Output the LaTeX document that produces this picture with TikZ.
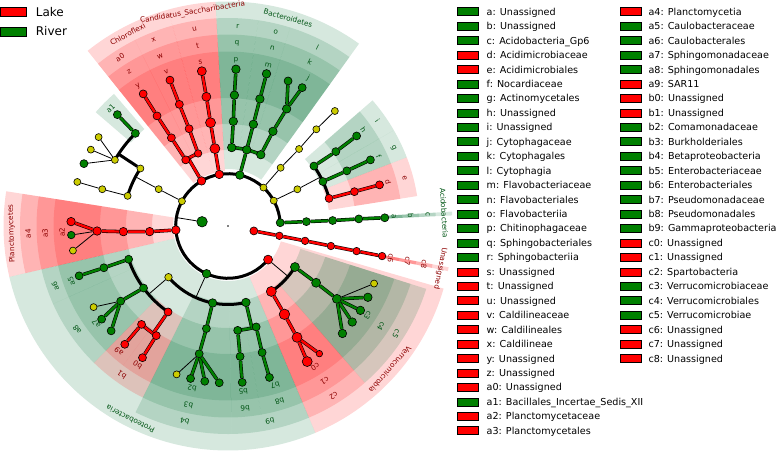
\documentclass[tikz,border=0pt]{standalone}
\usepackage{fontspec}
\setmainfont{DejaVu Sans}
\pgfdeclarelayer{bg}\pgfdeclarelayer{fg}\pgfsetlayers{bg,main,fg}
\definecolor{lk}{RGB}{255,0,0}
\definecolor{rv}{RGB}{0,128,0}
\definecolor{ye}{RGB}{204,204,0}
\definecolor{wr}{RGB}{255,0,0}
\definecolor{wg}{RGB}{0,110,50}
\definecolor{tr}{RGB}{140,0,0}
\definecolor{tg}{RGB}{0,85,20}
\tikzset{
 nd/.style={circle, draw=black, line width=0.6pt, inner sep=0pt},
 rn/.style={nd, fill=lk},
 gn/.style={nd, fill=rv},
 yn/.style={nd, fill=ye},
 rl/.style={draw=black, line width=0.55pt, double=lk, double distance=2.4pt},
 gl/.style={draw=black, line width=0.55pt, double=rv, double distance=2.4pt},
 bl/.style={draw=black, line width=3pt},
 tl/.style={draw=black, line width=0.8pt},
 lab/.style={font=\fontsize{7.3}{8}\selectfont, inner sep=0pt},
 legbox/.style={draw=black, line width=0.6pt, minimum width=21pt, minimum height=8pt, inner sep=0pt},
 legtxt/.style={anchor=base west, inner sep=0pt, font=\fontsize{9.6}{11}\selectfont},
}
% annular sector: a1 a2 rin rout colour
\newcommand\wdg[5]{\fill[#5, opacity=0.16] (#1:#3pt) arc[start angle=#1, end angle=#2, radius=#3pt] -- (#2:#4pt) arc[start angle=#2, end angle=#1, radius=#4pt] -- cycle;}
% tree node: name angle radius style size
\newcommand\nn[5]{\begin{pgfonlayer}{fg}\node[#4, minimum size=#5pt] (#1) at (#2:#3pt) {};\end{pgfonlayer}}
% label: name angle radius text colour
\newcommand\lb[5]{\node[lab, text=#5, rotate=#2-90] (#1) at (#2:#3pt) {#4};}
\begin{document}
\begin{tikzpicture}[x=1pt,y=1pt]
\useasboundingbox (0,0) rectangle (778,451);
\begin{scope}[shift={(228,225)}]
\begin{pgfonlayer}{bg}
% phylum wedges
\wdg{105.5}{128.7}{55}{224.5}{wr}
\wdg{93.2}{105.5}{55}{224.5}{wr}
\wdg{54.3}{93.2}{57}{224.5}{wg}
\wdg{2.7}{3.7}{55}{224.5}{wg}
\wdg{-11.6}{-10.6}{55}{224.5}{wr}
\wdg{-67.1}{-16.2}{55}{224.5}{wr}
\wdg{193.1}{292.9}{55}{224.5}{wg}
\wdg{171.1}{193.1}{55}{224.5}{wr}
% class wedges
\wdg{116.6}{128.7}{76}{208}{wr}
\wdg{105.5}{116.6}{76}{208}{wr}
\wdg{93.2}{105.5}{76}{208}{wr}
\wdg{81.6}{93.2}{76}{208}{wg}
\wdg{72.6}{81.6}{76}{208}{wg}
\wdg{54.3}{72.6}{76}{208}{wg}
\wdg{2.7}{3.7}{76}{208}{wg}
\wdg{-11.6}{-10.6}{76}{208}{wr}
\wdg{-48.9}{-17.6}{76}{208}{wg}
\wdg{-67.1}{-48.9}{76}{208}{wr}
\wdg{243.6}{271}{76}{208}{wg}
\wdg{271}{292.9}{76}{208}{wg}
\wdg{171.1}{193.1}{76}{208}{wr}
% order wedges
\wdg{116.6}{128.7}{102}{191.5}{wr}
\wdg{105.5}{116.6}{102}{191.5}{wr}
\wdg{93.2}{105.5}{102}{191.5}{wr}
\wdg{81.6}{93.2}{102}{191.5}{wg}
\wdg{72.6}{81.6}{102}{191.5}{wg}
\wdg{54.3}{72.6}{102}{191.5}{wg}
\wdg{30}{41}{102}{191.5}{wg}
\wdg{21}{30}{102}{191.5}{wg}
\wdg{9}{21}{102}{191.5}{wr}
\wdg{2.7}{3.7}{102}{191.5}{wg}
\wdg{-11.6}{-10.6}{102}{191.5}{wr}
\wdg{-48.9}{-17.6}{102}{191.5}{wg}
\wdg{-67.1}{-48.9}{102}{191.5}{wr}
\wdg{243.6}{271}{102}{191.5}{wg}
\wdg{271}{280}{102}{191.5}{wg}
\wdg{280}{292.9}{102}{191.5}{wg}
\wdg{193.1}{204}{102}{191.5}{wg}
\wdg{204}{225.6}{102}{191.5}{wg}
\wdg{225.6}{243.6}{102}{191.5}{wr}
\wdg{171.1}{193.1}{102}{191.5}{wr}
% family wedges
\wdg{116.6}{128.7}{128}{174.5}{wr}
\wdg{105.5}{116.6}{128}{174.5}{wr}
\wdg{93.2}{105.5}{128}{174.5}{wr}
\wdg{81.6}{93.2}{128}{174.5}{wg}
\wdg{72.6}{81.6}{128}{174.5}{wg}
\wdg{54.3}{72.6}{128}{174.5}{wg}
\wdg{30}{41}{128}{174.5}{wg}
\wdg{21}{30}{128}{174.5}{wg}
\wdg{9}{21}{128}{174.5}{wr}
\wdg{2.7}{3.7}{128}{174.5}{wg}
\wdg{-11.6}{-10.6}{128}{174.5}{wr}
\wdg{-48.9}{-17.6}{128}{174.5}{wg}
\wdg{-67.1}{-48.9}{128}{174.5}{wr}
\wdg{243.6}{271}{128}{174.5}{wg}
\wdg{271}{280}{128}{174.5}{wg}
\wdg{280}{292.9}{128}{174.5}{wg}
\wdg{193.1}{204}{128}{174.5}{wg}
\wdg{204}{225.6}{128}{174.5}{wg}
\wdg{225.6}{233}{128}{174.5}{wr}
\wdg{233}{243.6}{128}{174.5}{wr}
\wdg{171.1}{193.1}{128}{174.5}{wr}
\wdg{130.8}{139.3}{128}{174.5}{wg}
\end{pgfonlayer}
% ---------- nodes ----------
\begin{pgfonlayer}{fg}\node[circle, fill=black, inner sep=0pt, minimum size=1.8pt] (root) at (0,0) {};\end{pgfonlayer}
\nn{K1}{170.7}{26.3}{gn}{10.5}
\nn{K2}{-10.8}{26.3}{rn}{8}
% Unassigned
\nn{U2}{-10.8}{52.3}{rn}{7.5}\nn{U3}{-10.9}{78.5}{rn}{7.5}\nn{U4}{-11}{104.8}{rn}{7.5}\nn{U5}{-11.05}{131}{rn}{7.5}\nn{U6}{-11.05}{157}{rn}{7.5}
% Acidobacteria
\nn{A2}{3.6}{52.3}{gn}{8}\nn{A3}{3.2}{78.5}{gn}{8}\nn{A4}{3.0}{104.8}{gn}{8}\nn{A5}{3.1}{131}{gn}{8}\nn{A6}{3.0}{157}{gn}{8}
% Actinobacteria
\nn{B2}{29}{52.3}{yn}{7}\nn{B3}{27.9}{78.5}{yn}{7}
\nn{I4}{34.9}{104.8}{gn}{8}\nn{I5}{34.6}{131}{gn}{8}\nn{I6}{35}{157}{gn}{8}
\nn{G4}{25.1}{104.8}{gn}{8}\nn{G5}{24.9}{131}{gn}{8}\nn{G6}{24.9}{157}{gn}{8}
\nn{E4}{15.3}{104.8}{rn}{8}\nn{E5}{15.2}{131}{rn}{8}\nn{E6}{15.2}{157}{rn}{8}
% yellow phylum
\nn{Y2}{47.3}{52.3}{yn}{7}\nn{Y3}{47.9}{78.5}{yn}{7}\nn{Y4}{47.3}{104.8}{yn}{7}\nn{Y5}{47.6}{131}{yn}{7}\nn{Y6}{47.1}{157}{yn}{7}
% Bacteroidetes
\nn{D2}{76.9}{52.3}{gn}{8.5}
\nn{Dr3}{87.3}{78.5}{gn}{8.5}\nn{Dr4}{87.1}{104.8}{gn}{8.5}\nn{Dr5}{87.2}{131}{gn}{8.5}\nn{Dr6}{87.1}{157}{gn}{8.5}
\nn{Do3}{76.2}{78.5}{gn}{8.5}\nn{Do4}{76.0}{104.8}{gn}{8.5}\nn{Do5}{75.9}{131}{gn}{8.5}\nn{Do6}{75.8}{157}{gn}{8.5}
\nn{Dl3}{65.3}{78.5}{gn}{8.5}\nn{Dl4}{64.6}{104.8}{gn}{8.5}\nn{Dl5}{63.4}{131}{gn}{8.5}\nn{Dj1}{67.5}{157}{gn}{8}\nn{Dj2}{61.8}{157}{gn}{8}
% Candidatus Saccharibacteria
\nn{S2}{99.6}{52.3}{rn}{8.5}\nn{S3}{99.6}{78.5}{rn}{10}\nn{S4}{99.6}{104.8}{rn}{10}\nn{S5}{99.5}{131}{rn}{9}\nn{S6}{99.6}{157}{rn}{9}
% Chloroflexi
\nn{C2}{120.4}{52.3}{rn}{8.5}
\nn{Cy3}{122.6}{78.5}{rn}{8}\nn{Cy4}{122.7}{104.8}{rn}{8}\nn{Cy5}{122.8}{131}{rn}{8}\nn{Cy6}{122.7}{157}{rn}{8}
\nn{Cv3}{112.4}{78.5}{rn}{7.5}\nn{Cv4}{111.8}{104.8}{rn}{8}\nn{Cv5}{111.8}{131}{rn}{8}\nn{Cv6}{111.7}{157}{rn}{8}
% Firmicutes (yellow)
\nn{F2}{151.7}{52.3}{yn}{7}\nn{F3}{152}{78.5}{yn}{7}
\nn{Fa4}{146.7}{104.8}{yn}{7}\nn{Fb4}{163.3}{104.8}{yn}{7}
\nn{Fa5}{149.7}{131}{yn}{7}\nn{Fx5}{135}{131}{gn}{8}\nn{Fx6}{134.8}{157}{gn}{8}
\nn{Fa6a}{145.5}{157}{yn}{7}\nn{Fa6b}{150.9}{157}{yn}{7}\nn{Fa6c}{156.6}{157}{gn}{8}
\nn{Fb5}{163.7}{131}{yn}{7}\nn{Fb6}{163.7}{157}{yn}{7}
% Planctomycetes
\nn{P2}{184.4}{52.3}{rn}{8.5}\nn{P3}{184.1}{78.5}{rn}{8.5}\nn{P4}{183.1}{104.8}{rn}{8.5}\nn{P5}{182.2}{131}{rn}{8.5}
\nn{P6a}{178.4}{157}{rn}{8.5}\nn{P6b}{183.3}{157}{gn}{7.5}\nn{P6c}{189}{157}{yn}{7}
% Proteobacteria
\nn{Q2}{245.8}{52.3}{gn}{8.5}
\nn{QA3}{220.7}{78.5}{yn}{7.5}\nn{Qb43}{258.7}{78.5}{gn}{8.5}\nn{Qb93}{283.2}{78.5}{gn}{8.5}
\nn{Q64}{198.5}{104.8}{gn}{8}\nn{Q65}{198.6}{131}{gn}{8}\nn{Q66}{198.5}{157}{gn}{8}
\nn{Q84}{216.3}{104.8}{gn}{8}\nn{Q75}{215}{131}{gn}{8}
\nn{Q7a}{211.1}{157}{yn}{7}\nn{Q7b}{216.4}{157}{gn}{8}\nn{Q7c}{221.9}{157}{gn}{8}
\nn{Qb14}{235.1}{104.8}{rn}{8}\nn{Qa95}{228.7}{131}{rn}{8}\nn{Qa96}{228.9}{157}{rn}{8}\nn{Qb05}{236.8}{131}{rn}{8}\nn{Qb06}{237}{157}{rn}{8}
\nn{Qb34}{258.1}{104.8}{gn}{8}\nn{Qb25}{257.3}{131}{gn}{8}
\nn{Qb2a}{250.9}{157}{yn}{7}\nn{Qb2b}{256.2}{157}{gn}{8}\nn{Qb2c}{261.5}{157}{gn}{8}\nn{Qb2d}{266.8}{157}{gn}{8}
\nn{Qb64}{275.3}{104.8}{gn}{8}\nn{Qb55}{275.3}{131}{gn}{8}\nn{Qb56}{275.2}{157}{gn}{8}
\nn{Qb84}{285.6}{104.8}{gn}{8}\nn{Qb75}{285.1}{131}{gn}{8}\nn{Qb76}{285.3}{157}{gn}{8}
% Verrucomicrobia
\nn{V2}{-40}{52.3}{rn}{9}
\nn{V53}{-31.5}{78.5}{gn}{9}\nn{V54}{-32.8}{104.8}{gn}{9}\nn{V55}{-33.8}{131}{gn}{9}
\nn{V5a}{-21.5}{157}{yn}{7}\nn{V5b}{-27}{157}{gn}{8.5}\nn{V5c}{-32.5}{157}{gn}{8.5}\nn{V5d}{-37.7}{157}{gn}{8.5}\nn{V5e}{-43.2}{157}{gn}{8.5}
\nn{V23}{-56.5}{78.5}{rn}{10}\nn{V24}{-57.4}{104.8}{rn}{10.5}\nn{V25}{-58.2}{131}{rn}{10}
\nn{V26a}{-59.7}{157}{rn}{10}\nn{V26b}{-54.4}{157}{rn}{6.5}
% ---------- connectors ----------
\draw[bl] (A2.center) arc[start angle=3.6, end angle=320, radius=52.3pt];
\draw[tl] (K1) -- (170.7:52.3pt);
\draw[rl] (K2) -- (U2) -- (U3) -- (U4) -- (U5) -- (U6);
\draw[gl] (A2) -- (A3) -- (A4) -- (A5) -- (A6);
\draw[tl] (B2) -- (B3) -- (27.9:104.8pt);
\draw[bl] (E4.center) arc[start angle=15.3, end angle=34.9, radius=104.8pt];
\draw[gl] (I4) -- (I5) -- (I6);
\draw[gl] (G4) -- (G5) -- (G6);
\draw[rl] (E4) -- (E5) -- (E6);
\draw[tl] (Y2) -- (Y3) -- (Y4) -- (Y5) -- (Y6);
\draw[gl] (Dl3.center) arc[start angle=65.3, end angle=87.3, radius=78.5pt];
\draw[gl] (D2) -- (Do3);
\draw[gl] (Dr3) -- (Dr4) -- (Dr5) -- (Dr6);
\draw[gl] (Do3) -- (Do4) -- (Do5) -- (Do6);
\draw[gl] (Dl3) -- (Dl4) -- (Dl5);
\draw[gl] (Dl5) -- (Dj1);
\draw[gl] (Dl5) -- (Dj2);
\draw[rl] (S2) -- (S3) -- (S4) -- (S5) -- (S6);
\draw[rl] (Cv3.center) arc[start angle=112.4, end angle=122.6, radius=78.5pt];
\draw[rl] (C2) -- (120.4:78.5pt);
\draw[rl] (Cy3) -- (Cy4) -- (Cy5) -- (Cy6);
\draw[rl] (Cv3) -- (Cv4) -- (Cv5) -- (Cv6);
\draw[tl] (F2) -- (F3) -- (152:104.8pt);
\draw[bl] (Fa4.center) arc[start angle=146.7, end angle=163.3, radius=104.8pt];
\draw[bl] (Fa4) -- (146.7:131pt);
\draw[bl] (Fx5.center) arc[start angle=135, end angle=149.7, radius=131pt];
\draw[gl] (Fx5) -- (Fx6);
\draw[tl] (Fa5) -- (Fa6a);
\draw[tl] (Fa5) -- (Fa6b);
\draw[tl] (Fa5) -- (Fa6c);
\draw[tl] (Fb4) -- (Fb5) -- (Fb6);
\draw[rl] (P2) -- (P3) -- (P4) -- (P5) -- (P6a);
\draw[tl] (P5) -- (P6b);
\draw[tl] (P5) -- (P6c);
\draw[tl] (Q2) -- (245.8:78.5pt);
\draw[bl] (QA3.center) arc[start angle=220.7, end angle=283.2, radius=78.5pt];
\draw[tl] (QA3) -- (220.7:104.8pt);
\draw[bl] (Q64.center) arc[start angle=198.5, end angle=235.1, radius=104.8pt];
\draw[gl] (Q64) -- (Q65) -- (Q66);
\draw[gl] (Q84) -- (Q75);
\draw[tl] (Q75) -- (Q7a);
\draw[gl] (Q75) -- (Q7b);
\draw[gl] (Q75) -- (Q7c);
\draw[rl] (Qa95.center) arc[start angle=228.7, end angle=236.8, radius=131pt];
\draw[rl] (Qb14) -- (235.1:131pt);
\draw[rl] (Qa95) -- (Qa96);
\draw[rl] (Qb05) -- (Qb06);
\draw[gl] (Qb43) -- (Qb34) -- (Qb25);
\draw[tl] (Qb25) -- (Qb2a);
\draw[gl] (Qb25) -- (Qb2b);
\draw[gl] (Qb25) -- (Qb2c);
\draw[gl] (Qb25) -- (Qb2d);
\draw[gl] (Qb64.center) arc[start angle=275.3, end angle=285.6, radius=104.8pt];
\draw[gl] (Qb93) -- (283.2:104.8pt);
\draw[gl] (Qb64) -- (Qb55) -- (Qb56);
\draw[gl] (Qb84) -- (Qb75) -- (Qb76);
\draw[bl] (V23.center) arc[start angle=-56.5, end angle=-31.5, radius=78.5pt];
\draw[tl] (V2) -- (-40:78.5pt);
\draw[gl] (V53) -- (V54) -- (V55);
\draw[tl] (V55) -- (V5a);
\draw[gl] (V55) -- (V5b);
\draw[gl] (V55) -- (V5c);
\draw[gl] (V55) -- (V5d);
\draw[gl] (V55) -- (V5e);
\draw[rl] (V23) -- (V24) -- (V25) -- (V26a);
\draw[rl] (V25) -- (V26b);
% ---------- labels ----------
\lb{Ly}{122.7}{166}{y}{tr}\lb{Lz}{122.7}{183}{z}{tr}\lb{La0}{122.7}{200}{a0}{tr}
\lb{Lv}{111.8}{166}{v}{tr}\lb{Lw}{111.8}{183}{w}{tr}\lb{Lx}{111.8}{200}{x}{tr}
\lb{Ls}{99.6}{166}{s}{tr}\lb{Lt}{99.6}{183}{t}{tr}\lb{Lu}{99.6}{200}{u}{tr}
\lb{phCh}{117.6}{216.5}{Chloroflexi}{tr}
\lb{phCa}{99.4}{216.5}{Candidatus\_Saccharibacteria}{tr}
\lb{Lp}{87.2}{166}{p}{tg}\lb{Lq}{87.2}{183}{q}{tg}\lb{Lr}{87.2}{200}{r}{tg}
\lb{Lm}{75.9}{166}{m}{tg}\lb{Ln}{76}{183}{n}{tg}\lb{Lo}{76.2}{200}{o}{tg}
\lb{Lj}{61.5}{168}{j}{tg}\lb{Lk}{63.4}{183}{k}{tg}\lb{Ll}{63.4}{200}{l}{tg}
\lb{phBa}{73.9}{216.5}{Bacteroidetes}{tg}
\lb{Lh}{35.3}{166}{h}{tg}\lb{Li}{35.3}{183}{i}{tg}
\lb{Lf}{24.9}{166}{f}{tg}\lb{Lg}{25.2}{183}{g}{tg}
\lb{Ld}{15.2}{166}{d}{tr}\lb{Le}{15.2}{183}{e}{tr}
\lb{La}{3.2}{166}{a}{tg}\lb{Lb}{3.2}{183}{b}{tg}\lb{Lc}{3.2}{200}{c}{tg}
\lb{phAc}{3.4}{216.5}{Acidobacteria}{tg}
\lb{Lc6}{-11.1}{166}{c6}{tr}\lb{Lc7}{-11.1}{183}{c7}{tr}\lb{Lc8}{-11.1}{200}{c8}{tr}
\lb{phUn}{-11.3}{216.5}{Unassigned}{tr}
\lb{Lc3}{-32.6}{166}{c3}{tg}\lb{Lc4}{-33.2}{183}{c4}{tg}\lb{Lc5}{-32.7}{200}{c5}{tg}
\lb{phVe}{-41.5}{216.5}{Verrucomicrobia}{tr}
\lb{Lc0}{-58.3}{166}{c0}{tr}\lb{Lc1}{-58.1}{183}{c1}{tr}\lb{Lc2}{-58.1}{200}{c2}{tr}
\lb{Lb7}{286.5}{166}{b7}{tg}\lb{Lb8}{286.4}{183}{b8}{tg}\lb{Lb9}{282.1}{200}{b9}{tg}
\lb{Lb5}{275.3}{166}{b5}{tg}\lb{Lb6}{275.4}{183}{b6}{tg}
\lb{Lb2}{257.5}{166}{b2}{tg}\lb{Lb3}{257.5}{183}{b3}{tg}\lb{Lb4}{257.5}{200}{b4}{tg}
\lb{phPr}{243.2}{216.5}{Proteobacteria}{tg}
\lb{La9}{228.9}{166}{a9}{tr}\lb{Lb0}{237}{166}{b0}{tr}\lb{Lb1}{234.5}{183}{b1}{tr}
\lb{La7}{216.6}{164}{a7}{tg}\lb{La8}{214.5}{183}{a8}{tg}
\lb{La5}{199.4}{166}{a5}{tg}\lb{La6}{199.3}{183}{a6}{tg}
\lb{La2}{182.2}{166}{a2}{tr}\lb{La3}{182.2}{183}{a3}{tr}\lb{La4}{182.2}{200}{a4}{tr}
\lb{phPl}{182}{216.5}{Planctomycetes}{tr}
\lb{La1}{135}{166}{a1}{tg}
\end{scope}
% ---------- Lake / River legend ----------
\node[draw=black, line width=0.7pt, fill=lk, minimum width=26pt, minimum height=9pt, inner sep=0pt] (lakebox) at (13.5,439) {};
\node[anchor=base west, inner sep=0pt, font=\fontsize{12}{14}\selectfont] (laketxt) at (35.7,434.6) {Lake};
\node[draw=black, line width=0.7pt, fill=rv, minimum width=26pt, minimum height=9pt, inner sep=0pt] (riverbox) at (13.5,419.5) {};
\node[anchor=base west, inner sep=0pt, font=\fontsize{12}{14}\selectfont] (rivertxt) at (35.7,415.1) {River};
% ---------- letter legend ----------
\foreach \c/\t [count=\i from 0] in {rv/a: Unassigned, rv/b: Unassigned, rv/c: Acidobacteria\_Gp6, lk/d: Acidimicrobiaceae, lk/e: Acidimicrobiales, rv/f: Nocardiaceae, rv/g: Actinomycetales, rv/h: Unassigned, rv/i: Unassigned, rv/j: Cytophagaceae, rv/k: Cytophagales, rv/l: Cytophagia, rv/m: Flavobacteriaceae, rv/n: Flavobacteriales, rv/o: Flavobacteriia, rv/p: Chitinophagaceae, rv/q: Sphingobacteriales, rv/r: Sphingobacteriia, lk/s: Unassigned, lk/t: Unassigned, lk/u: Unassigned, lk/v: Caldilineaceae, lk/w: Caldilineales, lk/x: Caldilineae, lk/y: Unassigned, lk/z: Unassigned, lk/a0: Unassigned, rv/a1: Bacillales\_Incertae\_Sedis\_XII, lk/a2: Planctomycetaceae, lk/a3: Planctomycetales}{
 \pgfmathsetmacro\yy{451-11.7-14.45*\i}
 \node[legbox, fill=\c] (lbA\i) at (467.8,\yy) {};
 \node[legtxt] (ltA\i) at (486.5,\yy-3.5) {\t};
}
\foreach \c/\t [count=\i from 0] in {lk/a4: Planctomycetia, rv/a5: Caulobacteraceae, rv/a6: Caulobacterales, rv/a7: Sphingomonadaceae, rv/a8: Sphingomonadales, lk/a9: SAR11, lk/b0: Unassigned, lk/b1: Unassigned, rv/b2: Comamonadaceae, rv/b3: Burkholderiales, rv/b4: Betaproteobacteria, rv/b5: Enterobacteriaceae, rv/b6: Enterobacteriales, rv/b7: Pseudomonadaceae, rv/b8: Pseudomonadales, rv/b9: Gammaproteobacteria, lk/c0: Unassigned, lk/c1: Unassigned, lk/c2: Spartobacteria, rv/c3: Verrucomicrobiaceae, rv/c4: Verrucomicrobiales, rv/c5: Verrucomicrobiae, lk/c6: Unassigned, lk/c7: Unassigned, lk/c8: Unassigned}{
 \pgfmathsetmacro\yy{451-11.7-14.45*\i}
 \node[legbox, fill=\c] (lbB\i) at (630.5,\yy) {};
 \node[legtxt] (ltB\i) at (648.3,\yy-3.5) {\t};
}
\end{tikzpicture}
\end{document}
